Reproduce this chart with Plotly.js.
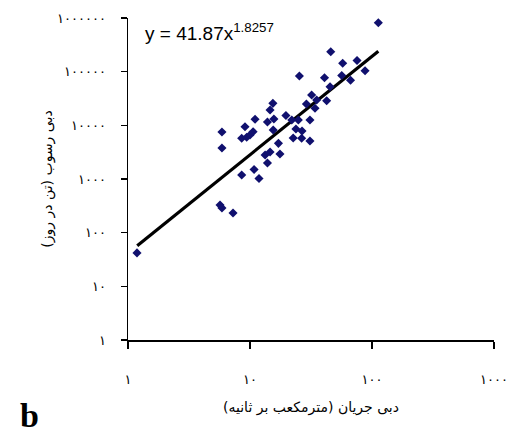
<!DOCTYPE html>
<html>
<head>
<meta charset="utf-8">
<script src="https://cdn.plot.ly/plotly-3.0.1.min.js"></script>
<style>html,body{margin:0;padding:0;background:#fff;}#chart{width:524px;height:444px;}</style>
</head>
<body>
<div id="chart"></div>
<script>
// Observed data: water discharge (m3/s) vs sediment discharge (ton/day)
var flowDischarge = [1.185, 5.68, 5.89, 7.26, 5.89, 5.89, 8.55, 10.8, 11.85, 8.55,
  9.40, 10.0, 9.10, 11.0, 10.6, 13.3, 13.9, 14.6, 17.6, 17.1,
  15.5, 15.4, 14.6, 13.9, 15.7, 19.7, 22.0, 24.9, 31.0, 23.8,
  26.7, 22.6, 26.5, 31.0, 25.4, 32.0, 29.0, 35.2, 34.1, 42.5,
  40.8, 45.3, 45.9, 57.5, 56.5, 66.7, 75.4, 87.7, 112.7];
var sedimentDischarge = [42, 327, 288, 232, 7500, 3780, 1190, 1500, 1020, 5730,
  5980, 6600, 9420, 12950, 7600, 2800, 1985, 3185, 2920, 4620,
  8180, 25700, 19300, 11530, 13100, 15240, 12570, 12570, 12570, 8540,
  7840, 5800, 5730, 5100, 83000, 36700, 24950, 29650, 20750, 28770,
  76800, 52450, 235500, 143200, 84800, 69000, 161400, 104200, 816500];

// Fitted power trend line end points
var trendX = [1.19, 112.7];
var trendY = [57, 240000];

var xTickVals = [1, 10, 100, 1000];
var xTickText = ['۱', '۱۰', '۱۰۰', '۱۰۰۰'];
var yTickVals = [1, 10, 100, 1000, 10000, 100000, 1000000];
var yTickText = ['۱', '۱۰', '۱۰۰', '۱۰۰۰', '۱۰۰۰۰', '۱۰۰۰۰۰', '۱۰۰۰۰۰۰'];

var equationText = 'y = 41.87x<sup>1.8257</sup>';
var xTitle = 'دبی جریان (مترمکعب بر ثانیه)';
var yTitle = 'دبی رسوب (تن در روز)';
var panelLabel = 'b';

var traces = [
  {
    x: trendX, y: trendY, type: 'scatter', mode: 'lines',
    line: {color: '#000000', width: 3.2}, hoverinfo: 'skip', showlegend: false
  },
  {
    x: flowDischarge, y: sedimentDischarge, type: 'scatter', mode: 'markers',
    marker: {symbol: 'diamond', size: 7, color: '#10106e'}, showlegend: false
  }
];

var axisCommon = {
  type: 'log', showgrid: false, zeroline: false, showline: true,
  linecolor: '#000', linewidth: 1.5, ticks: 'outside', tickcolor: '#000',
  tickwidth: 1.3, tickmode: 'array',
  tickfont: {family: 'DejaVu Sans, sans-serif', size: 13, color: '#000'}
};

var layout = {
  width: 524, height: 444,
  margin: {l: 128, r: 30, t: 18, b: 104},
  paper_bgcolor: '#fff', plot_bgcolor: '#fff',
  showlegend: false,
  xaxis: Object.assign({}, axisCommon, {
    range: [0, 3], tickvals: xTickVals, ticktext: xTickText,
    ticklen: 7, ticklabelstandoff: 20,
    title: {text: xTitle, standoff: 16, font: {family: 'DejaVu Sans, sans-serif', size: 14, color: '#000'}}
  }),
  yaxis: Object.assign({}, axisCommon, {
    range: [0, 6], tickvals: yTickVals, ticktext: yTickText,
    ticklen: 6, ticklabelstandoff: 12,
    title: {text: yTitle, standoff: 1, font: {family: 'DejaVu Sans, sans-serif', size: 14, color: '#000'}}
  }),
  annotations: [
    {
      xref: 'paper', yref: 'paper', x: 0.04, y: 0.955, xanchor: 'left', yanchor: 'middle',
      text: equationText, showarrow: false,
      font: {family: 'Liberation Sans, Arial, sans-serif', size: 19, color: '#000'}
    },
    {
      xref: 'paper', yref: 'paper', x: -0.268, y: -0.233, xanchor: 'center', yanchor: 'middle',
      text: '<b>' + panelLabel + '</b>', showarrow: false,
      font: {family: 'Liberation Serif, serif', size: 34, color: '#000'}
    }
  ]
};

Plotly.newPlot('chart', traces, layout, {displayModeBar: false, staticPlot: true});
</script>
</body>
</html>
